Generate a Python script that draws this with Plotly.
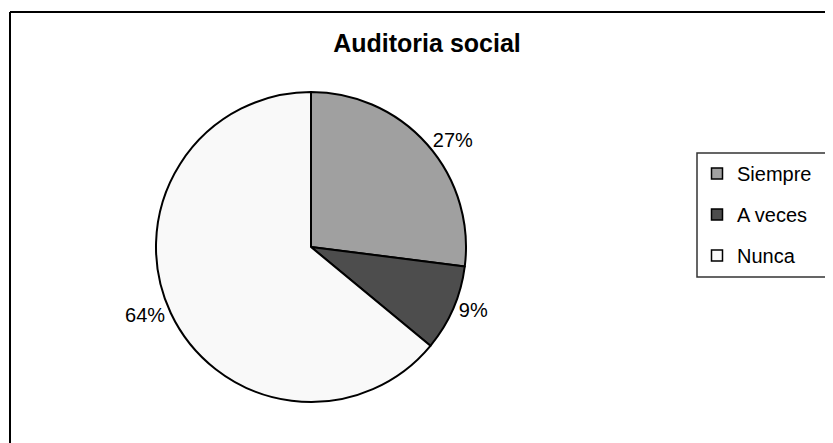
import plotly.graph_objects as go

W, H = 833, 443

labels = ["Siempre", "A veces", "Nunca"]
values = [27, 9, 64]
colors = ["#a0a0a0", "#4d4d4d", "#f9f9f9"]
title_text = "Auditoria social"

FONT = "Arial, Liberation Sans, sans-serif"
OFF = 8  # page body margin

def px_x(v):
    return (v - OFF) / W

def px_y(v):
    return 1 - (v - OFF) / H

cx, cy, r = 311, 247, 155

fig = go.Figure()
fig.add_trace(go.Pie(
    labels=labels, values=values, sort=False, direction="clockwise", rotation=0,
    marker=dict(colors=colors, line=dict(color="black", width=2)),
    textinfo="percent", textposition="outside", texttemplate="%{percent:.0%}",
    textfont=dict(family=FONT, size=20, color="black"),
    domain=dict(x=[px_x(cx - r), px_x(cx + r)], y=[px_y(cy + r), px_y(cy - r)]),
    showlegend=False, hoverinfo="label+percent",
))

# legend entries (one group each for spacing)
for lab, col in zip(labels, colors):
    fig.add_trace(go.Scatter(
        x=[None], y=[None], mode="markers", name=lab, legendgroup=lab,
        marker=dict(symbol="square", size=11, color=col, line=dict(color="black", width=1.5)),
    ))

fig.update_layout(
    width=W, height=H,
    margin=dict(l=0, r=0, t=0, b=0),
    paper_bgcolor="white", plot_bgcolor="white",
    xaxis=dict(visible=False), yaxis=dict(visible=False),
    title=dict(text="<b>" + title_text + "</b>", x=px_x(427), y=px_y(43),
               xanchor="center", yanchor="middle",
               font=dict(family=FONT, size=25, color="black")),
    legend=dict(x=px_x(697), y=px_y(154), xanchor="left", yanchor="top",
                font=dict(family=FONT, size=20, color="black"),
                tracegroupgap=12, bgcolor="rgba(0,0,0,0)", borderwidth=0),
    shapes=[
        dict(type="line", xref="paper", yref="paper", x0=px_x(10), x1=px_x(850),
             y0=px_y(12), y1=px_y(12), line=dict(color="black", width=2)),
        dict(type="line", xref="paper", yref="paper", x0=px_x(10), x1=px_x(10),
             y0=px_y(12), y1=px_y(460), line=dict(color="black", width=2)),
        dict(type="rect", xref="paper", yref="paper", x0=px_x(697), x1=px_x(860),
             y0=px_y(277), y1=px_y(153), line=dict(color="#333333", width=1.5)),
    ],
)

fig.write_html("out.html")
